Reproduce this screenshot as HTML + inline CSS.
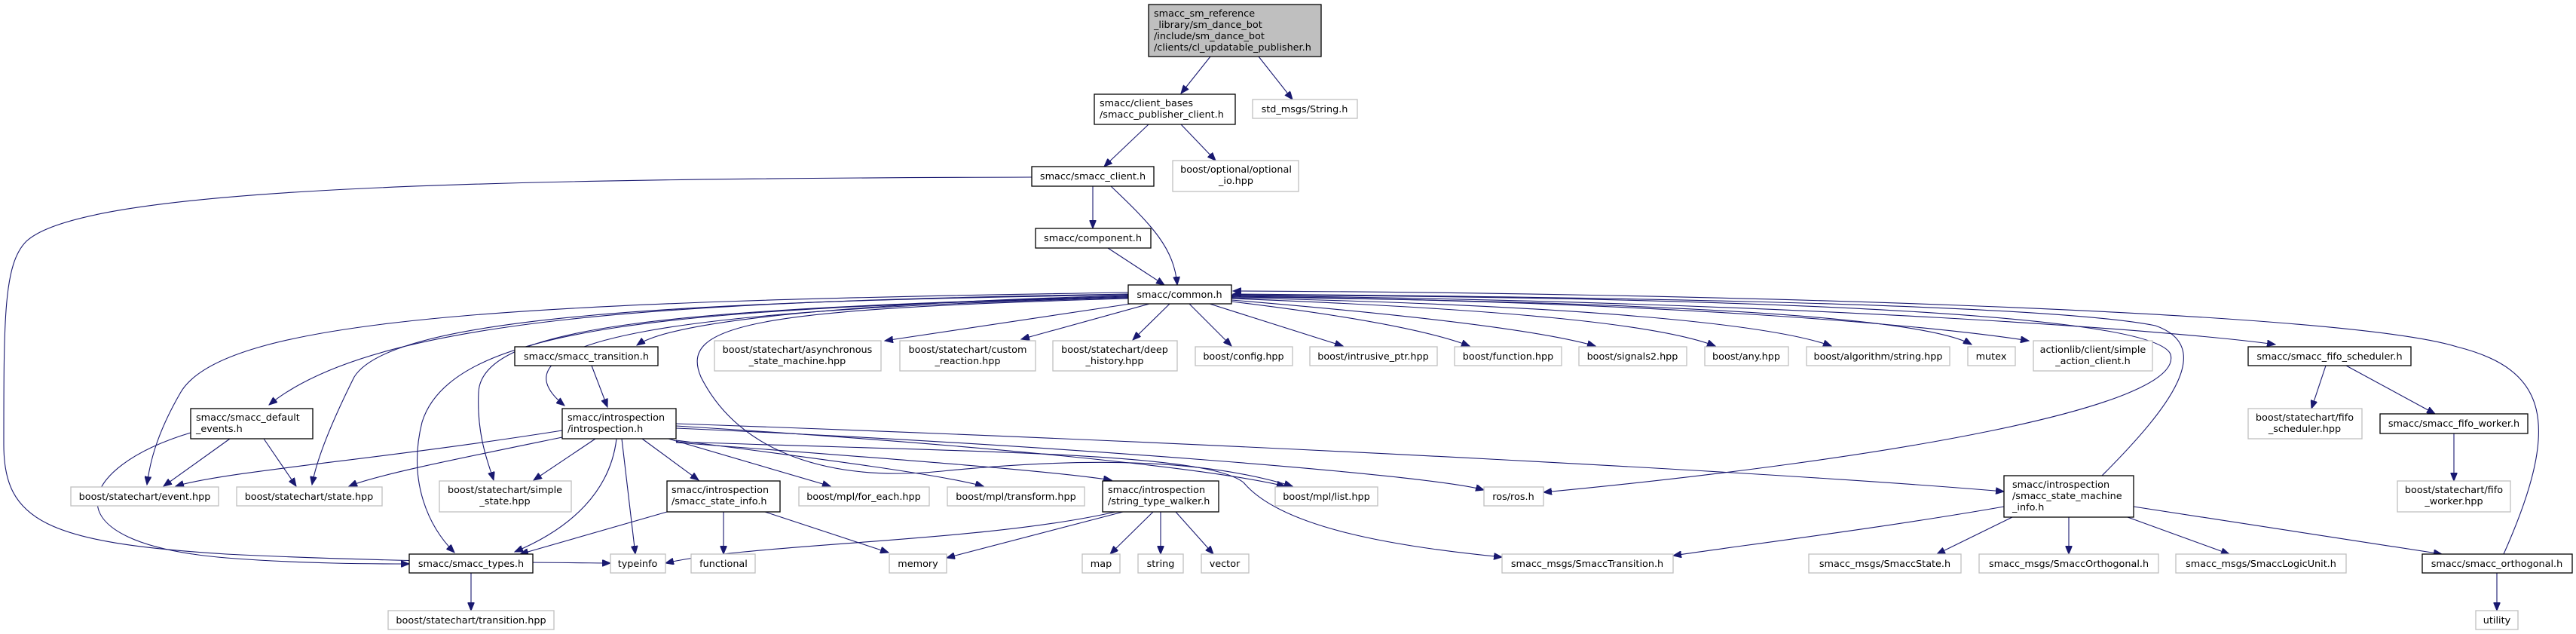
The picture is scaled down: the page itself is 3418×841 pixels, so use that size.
<!DOCTYPE html>
<html><head><meta charset="utf-8"><style>
html,body{margin:0;padding:0;background:#fff;}
svg{display:block;}
text{font-family:"DejaVu Sans","Liberation Sans",sans-serif;font-size:12.8px;fill:#000;}
.b{fill:#fff;stroke:#000;stroke-width:1.3;}
.g{fill:#fff;stroke:#bfbfbf;stroke-width:1.3;}
.e{fill:none;stroke:#191970;stroke-width:1.1;marker-end:url(#a);}
.c{text-anchor:middle;}
</style></head><body>
<svg width="3418" height="841" viewBox="0 0 3418 841" xmlns="http://www.w3.org/2000/svg">
<defs><marker id="a" markerUnits="userSpaceOnUse" markerWidth="12" markerHeight="9" refX="11" refY="4.5" orient="auto"><path d="M0,0 L11,4.5 L0,9 z" fill="#191970" stroke="#191970"/></marker></defs>

<!-- edges -->
<path class="e" d="M1606,75 L1567,124"/>
<path class="e" d="M1670,75 L1715,132"/>
<path class="e" d="M1524,165 L1465,221"/>
<path class="e" d="M1567,165 L1613,213"/>
<path class="e" d="M1450,247 L1450,303"/>
<path class="e" d="M1474,247 C1530,300 1558,330 1562,378"/>
<path class="e" d="M1470,329 L1545,378"/>
<path class="e" d="M1369,235 C600,237 110,250 35,320 C5,350 5,420 5,590 C5,690 60,720 300,735 C500,745 700,746 810,747"/>

<path class="e" d="M1497,392 C1200,400 900,420 845,458"/>
<path class="e" d="M1497,390 C900,400 500,420 357,537"/>
<path class="e" d="M1497,388 C700,400 300,420 240,520 C205,580 198,620 195,643"/>
<path class="e" d="M1497,391 C900,400 520,420 470,500 C440,560 420,610 414,643"/>
<path class="e" d="M1497,393 C900,410 640,430 635,520 C632,580 650,620 655,637"/>
<path class="e" d="M1497,394 C900,410 600,430 560,560 C540,640 570,700 603,733"/>
<path class="e" d="M1497,395 C900,410 640,450 749,538"/>
<path class="e" d="M1497,396 C1000,410 900,430 930,500 C980,600 1100,640 1250,625 C1450,605 1600,610 1715,645"/>
<path class="e" d="M1500,403 L1174,452"/>
<path class="e" d="M1525,403 L1355,450"/>
<path class="e" d="M1552,403 L1503,451"/>
<path class="e" d="M1578,403 L1634,459"/>
<path class="e" d="M1605,403 L1782,459"/>
<path class="e" d="M1634,400 C1800,420 1900,440 1950,459"/>
<path class="e" d="M1634,398 C1900,420 2050,440 2117,459"/>
<path class="e" d="M1634,396 C2000,410 2200,430 2276,459"/>
<path class="e" d="M1634,395 C2100,405 2350,430 2430,459"/>
<path class="e" d="M1634,394 C2200,400 2550,420 2616,457"/>
<path class="e" d="M1634,393 C2200,400 2550,430 2692,452"/>
<path class="e" d="M1634,392 C2400,400 2900,440 3019,457"/>
<path class="e" d="M1634,391 C2400,395 2860,420 2880,470 C2900,540 2500,610 2048,653"/>
<path class="e" d="M2789,631 C2880,540 2940,460 2860,432 C2700,400 2000,393 1636,390"/>
<path class="e" d="M3322,735 C3400,560 3380,490 3260,460 C3100,410 2200,388 1636,386"/>

<path class="e" d="M785,485 L806,540"/>
<path class="e" d="M746,571 C500,610 300,625 233,645"/>
<path class="e" d="M746,580 C600,610 500,630 463,645"/>
<path class="e" d="M790,582 L708,637"/>
<path class="e" d="M818,582 C810,650 760,700 683,732"/>
<path class="e" d="M825,582 L843,735"/>
<path class="e" d="M852,582 L927,637"/>
<path class="e" d="M887,582 L1102,645"/>
<path class="e" d="M897,584 C1100,610 1250,630 1305,645"/>
<path class="e" d="M897,587 C1200,610 1400,625 1475,637"/>
<path class="e" d="M897,565 C1300,590 1600,620 1705,645"/>
<path class="e" d="M897,568 C1400,590 1900,630 1969,650"/>
<path class="e" d="M897,562 C1700,590 2400,630 2659,652"/>
<path class="e" d="M897,586 C1300,600 1600,600 1650,640 C1700,700 1850,725 1993,739"/>
<path class="e" d="M885,679 L690,735"/>
<path class="e" d="M960,679 L960,735"/>
<path class="e" d="M1015,679 L1179,733"/>
<path class="e" d="M1480,679 C1300,720 1000,720 883,747"/>
<path class="e" d="M1490,679 L1256,740"/>
<path class="e" d="M1530,679 L1473,735"/>
<path class="e" d="M1540,679 L1540,735"/>
<path class="e" d="M1560,679 L1610,735"/>
<path class="e" d="M253,574 C100,620 60,720 300,740 C400,748 500,748 543,748"/>
<path class="e" d="M305,582 L217,645"/>
<path class="e" d="M350,582 L393,645"/>
<path class="e" d="M625,760 L625,810"/>
<path class="e" d="M2659,672 C2500,700 2300,725 2220,737"/>
<path class="e" d="M2670,686 L2570,735"/>
<path class="e" d="M2745,686 L2745,735"/>
<path class="e" d="M2823,686 L2958,735"/>
<path class="e" d="M2831,672 L3240,735"/>
<path class="e" d="M3086,485 L3067,542"/>
<path class="e" d="M3113,485 L3231,549"/>
<path class="e" d="M3256,575 L3256,638"/>
<path class="e" d="M3313,760 L3313,810"/>

<!-- nodes -->
<rect x="1524" y="6" width="229" height="69" fill="#bfbfbf" stroke="#000" stroke-width="1.3"/>
<text x="1531" y="22">smacc_sm_reference</text><text x="1531" y="37">_library/sm_dance_bot</text><text x="1531" y="52">/include/sm_dance_bot</text><text x="1531" y="67">/clients/cl_updatable_publisher.h</text>

<rect class="b" x="1452" y="125" width="187" height="40"/><text x="1459" y="141">smacc/client_bases</text><text x="1459" y="156">/smacc_publisher_client.h</text>
<rect class="g" x="1662" y="132" width="139" height="25"/><text class="c" x="1731" y="149">std_msgs/String.h</text>
<rect class="b" x="1369" y="221" width="162" height="26"/><text class="c" x="1450" y="238">smacc/smacc_client.h</text>
<rect class="g" x="1556" y="213" width="167" height="41"/><text class="c" x="1640" y="229">boost/optional/optional</text><text class="c" x="1640" y="244">_io.hpp</text>
<rect class="b" x="1374" y="303" width="153" height="26"/><text class="c" x="1450" y="320">smacc/component.h</text>
<rect class="b" x="1497" y="378" width="137" height="25"/><text class="c" x="1565" y="395">smacc/common.h</text>

<rect class="b" x="683" y="460" width="190" height="25"/><text class="c" x="778" y="477">smacc/smacc_transition.h</text>
<rect class="g" x="948" y="452" width="221" height="40"/><text class="c" x="1058" y="468">boost/statechart/asynchronous</text><text class="c" x="1058" y="483">_state_machine.hpp</text>
<rect class="g" x="1194" y="452" width="180" height="40"/><text class="c" x="1284" y="468">boost/statechart/custom</text><text class="c" x="1284" y="483">_reaction.hpp</text>
<rect class="g" x="1397" y="452" width="165" height="40"/><text class="c" x="1479" y="468">boost/statechart/deep</text><text class="c" x="1479" y="483">_history.hpp</text>
<rect class="g" x="1586" y="460" width="129" height="25"/><text class="c" x="1650" y="477">boost/config.hpp</text>
<rect class="g" x="1738" y="460" width="169" height="25"/><text class="c" x="1822" y="477">boost/intrusive_ptr.hpp</text>
<rect class="g" x="1930" y="460" width="142" height="25"/><text class="c" x="2001" y="477">boost/function.hpp</text>
<rect class="g" x="2095" y="460" width="143" height="25"/><text class="c" x="2166" y="477">boost/signals2.hpp</text>
<rect class="g" x="2262" y="460" width="111" height="25"/><text class="c" x="2317" y="477">boost/any.hpp</text>
<rect class="g" x="2397" y="460" width="190" height="25"/><text class="c" x="2492" y="477">boost/algorithm/string.hpp</text>
<rect class="g" x="2611" y="460" width="63" height="25"/><text class="c" x="2642" y="477">mutex</text>
<rect class="g" x="2698" y="452" width="158" height="40"/><text class="c" x="2777" y="468">actionlib/client/simple</text><text class="c" x="2777" y="483">_action_client.h</text>
<rect class="b" x="2983" y="460" width="216" height="25"/><text class="c" x="3091" y="477">smacc/smacc_fifo_scheduler.h</text>

<rect class="b" x="253" y="542" width="162" height="40"/><text x="260" y="558">smacc/smacc_default</text><text x="260" y="573">_events.h</text>
<rect class="b" x="746" y="542" width="151" height="40"/><text x="753" y="558">smacc/introspection</text><text x="753" y="573">/introspection.h</text>
<rect class="g" x="2983" y="542" width="151" height="40"/><text class="c" x="3058" y="558">boost/statechart/fifo</text><text class="c" x="3058" y="573">_scheduler.hpp</text>
<rect class="b" x="3158" y="549" width="196" height="26"/><text class="c" x="3256" y="566">smacc/smacc_fifo_worker.h</text>

<rect class="g" x="94" y="646" width="196" height="25"/><text class="c" x="192" y="663">boost/statechart/event.hpp</text>
<rect class="g" x="314" y="646" width="193" height="25"/><text class="c" x="410" y="663">boost/statechart/state.hpp</text>
<rect class="g" x="583" y="638" width="175" height="41"/><text class="c" x="670" y="654">boost/statechart/simple</text><text class="c" x="670" y="669">_state.hpp</text>
<rect class="b" x="885" y="638" width="150" height="41"/><text x="891" y="654">smacc/introspection</text><text x="891" y="669">/smacc_state_info.h</text>
<rect class="g" x="1060" y="646" width="173" height="25"/><text class="c" x="1146" y="663">boost/mpl/for_each.hpp</text>
<rect class="g" x="1257" y="646" width="182" height="25"/><text class="c" x="1348" y="663">boost/mpl/transform.hpp</text>
<rect class="b" x="1463" y="638" width="154" height="41"/><text x="1470" y="654">smacc/introspection</text><text x="1470" y="669">/string_type_walker.h</text>
<rect class="g" x="1692" y="646" width="136" height="25"/><text class="c" x="1760" y="663">boost/mpl/list.hpp</text>
<rect class="g" x="1969" y="646" width="79" height="25"/><text class="c" x="2008" y="663">ros/ros.h</text>
<rect class="b" x="2659" y="631" width="172" height="55"/><text x="2670" y="647">smacc/introspection</text><text x="2670" y="662">/smacc_state_machine</text><text x="2670" y="677">_info.h</text>
<rect class="g" x="3181" y="638" width="150" height="41"/><text class="c" x="3256" y="654">boost/statechart/fifo</text><text class="c" x="3256" y="669">_worker.hpp</text>

<rect class="b" x="543" y="735" width="164" height="25"/><text class="c" x="625" y="752">smacc/smacc_types.h</text>
<rect class="g" x="810" y="735" width="73" height="25"/><text class="c" x="846" y="752">typeinfo</text>
<rect class="g" x="917" y="735" width="85" height="25"/><text class="c" x="960" y="752">functional</text>
<rect class="g" x="1180" y="735" width="76" height="25"/><text class="c" x="1218" y="752">memory</text>
<rect class="g" x="1436" y="735" width="50" height="25"/><text class="c" x="1461" y="752">map</text>
<rect class="g" x="1510" y="735" width="60" height="25"/><text class="c" x="1540" y="752">string</text>
<rect class="g" x="1594" y="735" width="63" height="25"/><text class="c" x="1625" y="752">vector</text>
<rect class="g" x="1993" y="735" width="227" height="25"/><text class="c" x="2106" y="752">smacc_msgs/SmaccTransition.h</text>
<rect class="g" x="2400" y="735" width="202" height="25"/><text class="c" x="2501" y="752">smacc_msgs/SmaccState.h</text>
<rect class="g" x="2626" y="735" width="238" height="25"/><text class="c" x="2745" y="752">smacc_msgs/SmaccOrthogonal.h</text>
<rect class="g" x="2887" y="735" width="226" height="25"/><text class="c" x="3000" y="752">smacc_msgs/SmaccLogicUnit.h</text>
<rect class="b" x="3214" y="735" width="199" height="25"/><text class="c" x="3313" y="752">smacc/smacc_orthogonal.h</text>

<rect class="g" x="515" y="810" width="220" height="25"/><text class="c" x="625" y="827">boost/statechart/transition.hpp</text>
<rect class="g" x="3285" y="810" width="56" height="25"/><text class="c" x="3313" y="827">utility</text>
</svg>
</body></html>
